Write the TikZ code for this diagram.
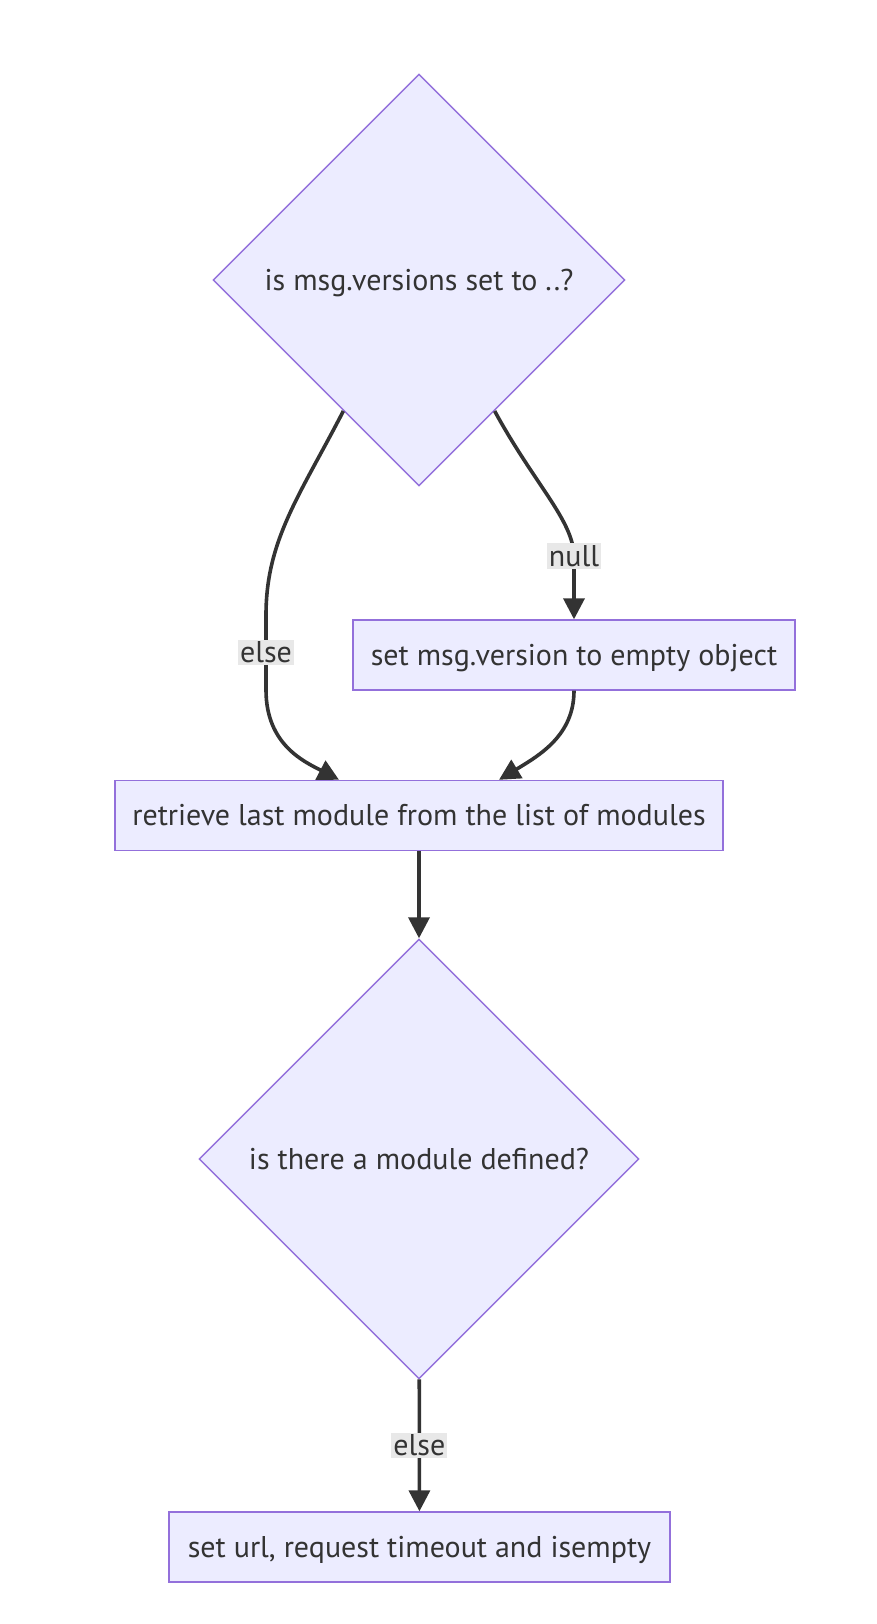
\documentclass[tikz,border=0pt]{standalone}
\usepackage{fontspec}
\setmainfont{PT Sans}
\usetikzlibrary{shapes.geometric,arrows.meta,calc}
\definecolor{nodefill}{HTML}{ECECFF}
\definecolor{nodeline}{HTML}{9370DB}
\definecolor{edgecol}{HTML}{333333}
\definecolor{labelbg}{HTML}{E8E8E8}
\begin{document}
\begin{tikzpicture}[x=1pt,y=-1pt,
  font=\fontsize{30}{36}\selectfont,
  box/.style={draw=nodeline,fill=nodefill,line width=1.4pt,rectangle,minimum height=70pt,inner sep=0pt,text=edgecol,text height=22pt,text depth=2pt},
  decision/.style={draw=nodeline,fill=nodefill,line width=1.4pt,diamond,aspect=1,inner sep=0pt,minimum width=412pt,minimum height=412pt,text=edgecol,text height=22pt,text depth=2pt},
  edge/.style={draw=edgecol,line width=3.6pt,-{Triangle[length=21pt,width=21pt]}},
  elabel/.style={fill=labelbg,inner sep=2pt,text=edgecol}]
\useasboundingbox (0,0) rectangle (876,1624);
\node[decision] (d1) at (419,280) {is msg.versions set to ..?};
\node[box,minimum width=442pt] (b1) at (574,655) {set msg.version to empty object};
\node[box,minimum width=608pt] (b2) at (419,815.5) {retrieve last module from the list of modules};
\node[decision,minimum width=440pt,minimum height=440pt] (d2) at (419,1159) {is there a module defined?};
\node[box,minimum width=501pt] (b3) at (419.5,1547) {set url, request timeout and isempty};
\draw[edge] (d1.-120) .. controls (300,495) and (266,540) .. (266,615)
  -- node[elabel] (le1) {else} (266,690)
  .. controls (266,745) and (305,762) .. ($(b2.north)+(-80,0)$);
\draw[edge] (d1.-60) .. controls (535,485) and (573,520) .. (574,556)
  node[elabel] (ln) {null} -- (b1.north);
\draw[edge] (b1.south) .. controls (574,735) and (540,755) .. ($(b2.north)+(80,0)$);
\draw[edge] (b2) -- (d2);
\draw[edge] (d2) -- node[elabel] (le2) {else} (b3);
\end{tikzpicture}
\end{document}
